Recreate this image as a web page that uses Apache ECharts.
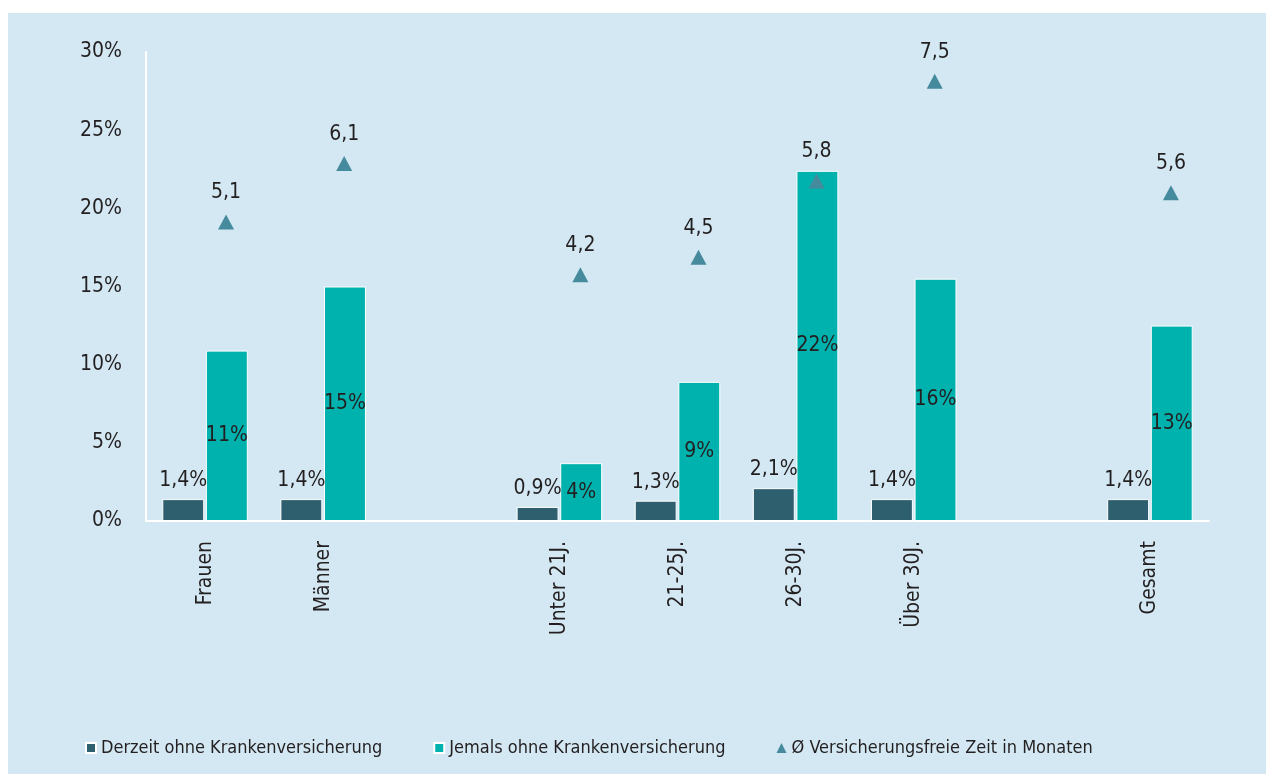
<!DOCTYPE html>
<html>
<head>
<meta charset="utf-8">
<script src="https://cdn.jsdelivr.net/npm/echarts@6/dist/echarts.min.js"></script>
<style>
  html, body { margin: 0; padding: 0; background: #fff; }
  #chart { position: absolute; left: 8px; top: 13px; width: 1258px; height: 761px; background: #d3e8f3; }
</style>
</head>
<body>
<div id="chart"></div>
<script>
// Kategorien (leere Einträge = Abstand zwischen den Gruppen)
const categories = ['Frauen', 'Männer', '', 'Unter 21J.', '21-25J.', '26-30J.', 'Über 30J.', '', 'Gesamt']
// Derzeit ohne Krankenversicherung (%)
const derzeit = [1.4, 1.4, null, 0.9, 1.3, 2.1, 1.4, null, 1.4]
// Jemals ohne Krankenversicherung (%)
const jemals = [10.9, 15.0, null, 3.7, 8.9, 22.4, 15.5, null, 12.5]
// Ø versicherungsfreie Zeit in Monaten
const monate = [5.1, 6.1, null, 4.2, 4.5, 5.8, 7.5, null, 5.6]
const yTicks = [0, 5, 10, 15, 20, 25, 30]

const FONT = "'DejaVu Sans Condensed', 'Liberation Sans Narrow', 'Liberation Sans', sans-serif"
const TXT = '#231f20'

const fmt = v => String(v).replace('.', ',')

const chart = echarts.init(document.getElementById('chart'))
const option = {
  animation: false,
  textStyle: { fontFamily: FONT, color: TXT },
  grid: { left: 138, right: 57, top: 39, bottom: 253, containLabel: false },
  legend: {
    left: 72,
    top: 721,
    itemWidth: 10,
    itemHeight: 10,
    itemGap: 51,
    textStyle: { fontFamily: FONT, fontSize: 18, color: TXT },
    data: [
      { name: 'Derzeit ohne Krankenversicherung', icon: 'rect' },
      { name: 'Jemals ohne Krankenversicherung', icon: 'rect' },
      { name: 'Ø Versicherungsfreie Zeit in Monaten', icon: 'triangle' }
    ]
  },
  xAxis: {
    type: 'category',
    data: categories,
    axisLine: { lineStyle: { color: '#ffffff', width: 2 } },
    axisTick: { show: false },
    axisLabel: { rotate: 90, margin: 20, fontFamily: FONT, fontSize: 21, color: TXT, interval: 0 }
  },
  yAxis: [
    {
      type: 'value',
      min: yTicks[0],
      max: yTicks[yTicks.length - 1],
      interval: 5,
      axisLine: { show: true, lineStyle: { color: '#ffffff', width: 2 } },
      axisTick: { show: false },
      splitLine: { show: false },
      axisLabel: { margin: 24, fontFamily: FONT, fontSize: 21, color: TXT, formatter: '{value}%' }
    },
    {
      type: 'value',
      min: 0,
      max: 8,
      show: false
    }
  ],
  series: [
    {
      name: 'Derzeit ohne Krankenversicherung',
      type: 'bar',
      data: derzeit,
      barWidth: '35.5%',
      barGap: '4%',
      itemStyle: { color: '#2e5f6e', borderColor: '#ffffff', borderWidth: 1 },
      label: {
        show: true,
        position: 'top',
        distance: 8,
        fontFamily: FONT,
        fontSize: 21,
        color: TXT,
        formatter: p => fmt(p.value) + '%'
      }
    },
    {
      name: 'Jemals ohne Krankenversicherung',
      type: 'bar',
      data: jemals,
      barWidth: '35.5%',
      barGap: '4%',
      itemStyle: { color: '#00b2ae', borderColor: '#ffffff', borderWidth: 1 },
      label: {
        show: true,
        position: 'inside',
        fontFamily: FONT,
        fontSize: 21,
        color: TXT,
        formatter: p => Math.round(p.value) + '%'
      }
    },
    {
      name: 'Ø Versicherungsfreie Zeit in Monaten',
      type: 'scatter',
      yAxisIndex: 1,
      data: monate,
      symbol: 'triangle',
      symbolSize: [16, 15],
      symbolOffset: [21, 0],
      itemStyle: { color: '#468a9d', opacity: 1 },
      label: {
        show: true,
        position: 'top',
        distance: 11,
        fontFamily: FONT,
        fontSize: 21,
        color: TXT,
        formatter: p => fmt(p.value)
      }
    }
  ]
}
chart.setOption(option)
</script>
</body>
</html>
